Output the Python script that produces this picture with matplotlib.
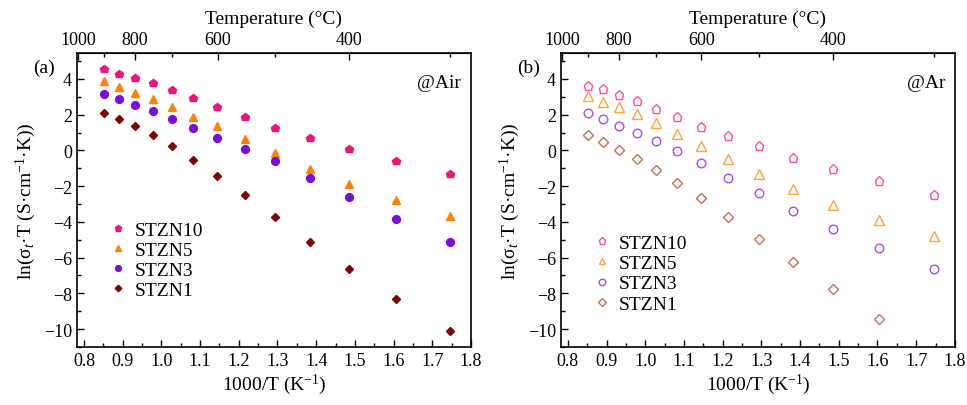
import matplotlib

matplotlib.use("Agg")
import matplotlib.pyplot as plt
from matplotlib.ticker import MultipleLocator

plt.rcParams["font.family"] = ["Liberation Serif", "DejaVu Serif"]
plt.rcParams["mathtext.fontset"] = "custom"
plt.rcParams["mathtext.rm"] = "Liberation Serif"
plt.rcParams["mathtext.it"] = "Liberation Serif:italic"

# 1000/T (K^-1), 900 -> 300 degC
inv_t = [0.853, 0.890, 0.932, 0.978, 1.028, 1.083, 1.145, 1.215, 1.294, 1.383,
         1.486, 1.605, 1.745]

# ln(sigma_t * T), air
air_stzn10 = [4.55, 4.30, 4.05, 3.75, 3.37, 2.92, 2.41, 1.86, 1.28, 0.70, 0.07, -0.60, -1.33]
air_stzn5 = [3.88, 3.57, 3.23, 2.88, 2.42, 1.86, 1.37, 0.66, -0.15, -1.02, -1.88, -2.77, -3.65]
air_stzn3 = [3.18, 2.88, 2.55, 2.18, 1.77, 1.24, 0.70, 0.08, -0.62, -1.54, -2.60, -3.82, -5.10]
air_stzn1 = [2.12, 1.74, 1.35, 0.84, 0.23, -0.52, -1.46, -2.52, -3.73, -5.10, -6.63, -8.33, -10.10]

# ln(sigma_t * T), argon
ar_stzn10 = [3.63, 3.43, 3.10, 2.74, 2.33, 1.85, 1.33, 0.79, 0.22, -0.41, -1.03, -1.73, -2.50]
ar_stzn5 = [3.02, 2.70, 2.41, 2.02, 1.53, 0.92, 0.26, -0.50, -1.30, -2.16, -3.03, -3.90, -4.78]
ar_stzn3 = [2.11, 1.75, 1.39, 1.00, 0.55, -0.06, -0.73, -1.52, -2.38, -3.37, -4.40, -5.48, -6.62]
ar_stzn1 = [0.85, 0.45, 0.02, -0.48, -1.08, -1.83, -2.67, -3.75, -4.97, -6.27, -7.78, -9.43]

labels = ["STZN10", "STZN5", "STZN3", "STZN1"]
markers = ["p", "^", "o", "D"]
sizes = [6.2, 6.0, 5.6, 4.4]
air_colors = ["#f0137c", "#ff8205", "#7a0ed8", "#7a0303"]
ar_colors = ["#ff4ea6", "#ffa23f", "#a64cf5", "#c07060"]

fig = plt.figure(figsize=(9.67, 4.06), dpi=100)
ax_a = fig.add_axes([0.0796, 0.143, 0.4075, 0.724])
ax_b = fig.add_axes([0.580, 0.143, 0.4075, 0.724])


def to_c(x):
    return 1000.0 / x - 273.15


def to_inv(t):
    return 1000.0 / (t + 273.15)


def style(ax, series, colors, filled, tag, name, leg_y):
    for ys, lab, m, s, c in zip(series, labels, markers, sizes, colors):
        xs = inv_t[:len(ys)]
        if filled:
            ax.plot(xs, ys, ls="none", marker=m, ms=s, color=c, mec=c, label=lab)
        else:
            ax.plot(xs, ys, ls="none", marker=m, ms=s + 0.6, mfc="none", mec=c, mew=1.0, label=lab)
    ax.set_xlim(0.782, 1.80)
    ax.set_ylim(-11, 5.45)
    ax.xaxis.set_major_locator(MultipleLocator(0.1))
    ax.xaxis.set_minor_locator(MultipleLocator(0.05))
    ax.yaxis.set_major_locator(MultipleLocator(2))
    ax.yaxis.set_minor_locator(MultipleLocator(1))
    ax.tick_params(which="both", direction="in", top=False, right=False, labelsize=13)
    ax.tick_params(which="major", length=5, width=1)
    ax.tick_params(which="minor", length=3, width=1)
    for sp in ax.spines.values():
        sp.set_linewidth(1.2)
    ax.set_xlabel("1000/T (K$^{-1}$)", fontsize=14, labelpad=2)
    ax.set_ylabel("ln(\u03c3$_t$\u00b7T (S\u00b7cm$^{-1}$\u00b7K))", fontsize=14, labelpad=4)

    sec = ax.secondary_xaxis("top", functions=(to_c, to_inv))
    sec.set_xticks([1000, 800, 600, 400])
    sec.set_xticks([900, 700, 500, 300], minor=True)
    sec.tick_params(which="both", direction="in", labelsize=13)
    sec.tick_params(which="major", length=5, width=1)
    sec.tick_params(which="minor", length=3, width=1)
    sec.set_xlabel("Temperature (\u00b0C)", fontsize=14, labelpad=6)

    ax.text(-0.112, 0.952, tag, transform=ax.transAxes, fontsize=14, ha="left", va="center")
    ax.text(0.975, 0.90, name, transform=ax.transAxes, fontsize=14, ha="right", va="center")
    ax.legend(loc="upper left", bbox_to_anchor=(0.035, leg_y), frameon=False, fontsize=14,
              handlelength=1.0, handletextpad=0.35, labelspacing=0.13, markerscale=0.75)


style(ax_a, [air_stzn10, air_stzn5, air_stzn3, air_stzn1], air_colors, True, "(a)", "@Air", 0.488)
style(ax_b, [ar_stzn10, ar_stzn5, ar_stzn3, ar_stzn1], ar_colors, False, "(b)", "@Ar", 0.442)

fig.savefig("out.png", dpi=100, facecolor="white")
